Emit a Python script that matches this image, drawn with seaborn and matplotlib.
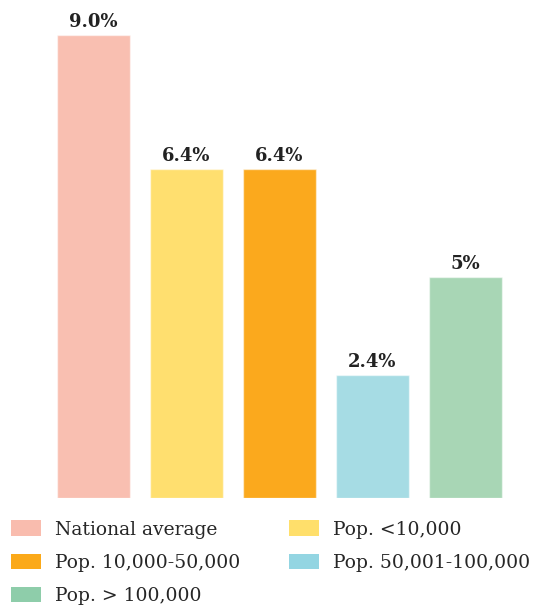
import matplotlib
matplotlib.use("Agg")
import matplotlib.pyplot as plt
from matplotlib.patches import Patch
import pandas as pd
import seaborn as sns

# bar data
categories = ["National average", "Pop. <10,000", "Pop. 10,000-50,000",
              "Pop. 50,001-100,000", "Pop. > 100,000"]
values = [9.0, 6.4, 6.4, 2.4, 4.3]
value_labels = ["9.0%", "6.4%", "6.4%", "2.4%", "5%"]
bar_colors = ["#F9BFB1", "#FFDF6F", "#FBA91D", "#A6DCE4", "#A8D6B5"]
legend_colors = ["#F9BCAE", "#FFDF6B", "#FBA919", "#93D5E2", "#8ECDAA"]

sns.set_style("white")
plt.rcParams["font.family"] = ["DejaVu Serif"]

df = pd.DataFrame({"group": categories, "value": values})

fig = plt.figure(figsize=(5.41, 6.09), dpi=100)
ax = fig.add_axes([47 / 541, 111 / 609, 465 / 541, 498 / 609])

sns.barplot(data=df, x="group", y="value", hue="group", palette=bar_colors,
            saturation=1, width=0.785, legend=False, ax=ax,
            edgecolor=(1, 1, 1, 0.5), linewidth=1)

# value labels above each bar
for patch, lab in zip(ax.patches, value_labels):
    ax.text(patch.get_x() + patch.get_width() / 2, patch.get_height() + 0.08, lab,
            ha="center", va="bottom", fontsize=13, fontweight="bold", color="#222222")

ax.set_xlim(-0.5, 4.5)
ax.set_ylim(0, 9.69)
ax.set_xlabel("")
ax.set_ylabel("")
ax.set_xticks([])
ax.set_yticks([])
sns.despine(ax=ax, left=True, bottom=True)

# legend fills row by row in the reference, matplotlib fills by column
order = [0, 2, 4, 1, 3]
handles = [Patch(facecolor=legend_colors[i], edgecolor="none") for i in order]
labels = [categories[i] for i in order]
fig.legend(handles, labels, loc="upper left", bbox_to_anchor=(0.007, 0.158),
           ncol=2, frameon=False, fontsize=13.5, handlelength=1.6, handleheight=0.9,
           handletextpad=0.75, columnspacing=2.6, labelspacing=0.8, borderaxespad=0)

fig.savefig("out.png", dpi=100)
